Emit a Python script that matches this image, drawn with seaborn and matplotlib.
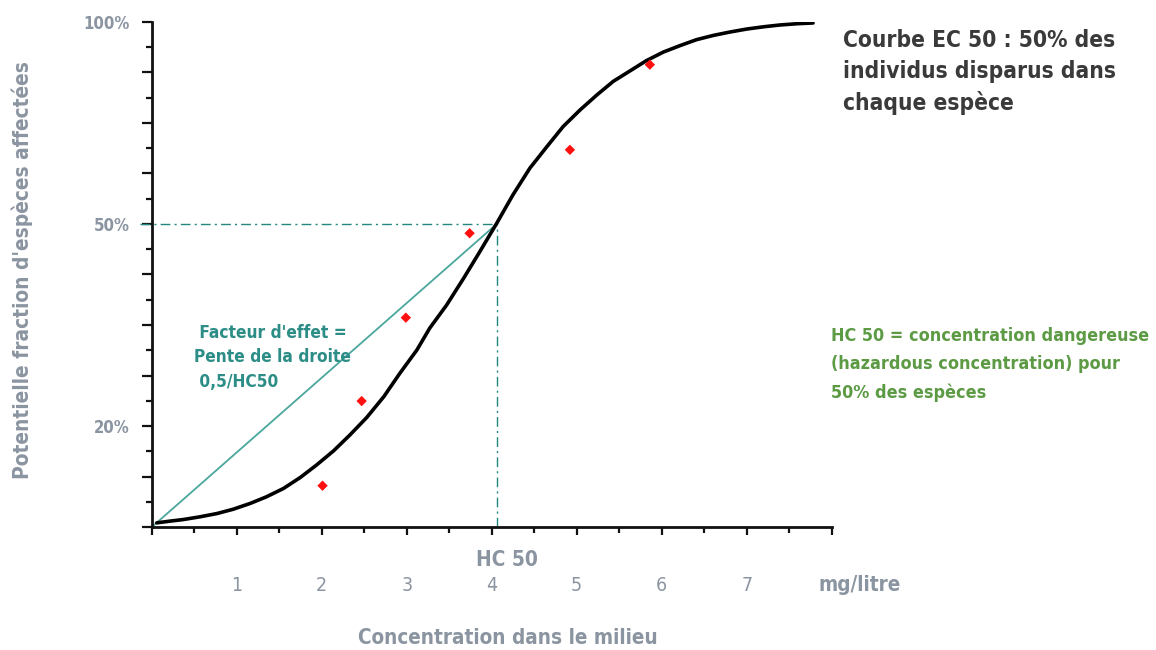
import matplotlib
matplotlib.use("Agg")
import matplotlib.pyplot as plt
from matplotlib import font_manager
from matplotlib.font_manager import FontProperties
from matplotlib.ticker import FixedLocator, FixedFormatter
import seaborn as sns
import pandas as pd

# courbe EC 50 (x en mg/litre, y en graduations de l'axe 0..20)
curve_x = [0.06, 0.22, 0.37, 0.57, 0.77, 0.96, 1.16, 1.35, 1.55, 1.75, 1.94,
           2.14, 2.33, 2.53, 2.73, 2.92, 3.12, 3.27, 3.47, 3.67, 3.86, 4.06,
           4.25, 4.45, 4.65, 4.84, 5.04, 5.24, 5.43, 5.63, 5.82, 6.02, 6.22,
           6.41, 6.61, 6.80, 7.00, 7.20, 7.39, 7.59, 7.78]
curve_y = [0.17, 0.24, 0.30, 0.41, 0.54, 0.71, 0.94, 1.20, 1.53, 1.97, 2.46,
           3.02, 3.64, 4.34, 5.16, 6.09, 7.01, 7.87, 8.79, 9.85, 10.90, 12.03,
           13.15, 14.21, 15.06, 15.85, 16.51, 17.11, 17.64, 18.06, 18.46, 18.80, 19.06,
           19.29, 19.46, 19.59, 19.71, 19.80, 19.87, 19.92, 19.95]

# points mesurés (losanges rouges)
obs_x = [2.01, 2.47, 2.99, 3.74, 4.92, 5.86]
obs_y = [1.64, 4.99, 8.29, 11.63, 14.93, 18.30]

hc50 = 4.06
half = 12  # graduation du 50%

x_labels = ["", "1", "2", "3", "4", "5", "6", "7", ""]
y_label_pos = [4, 12, 20]
y_labels = ["20%", "50%", "100%"]

sns.set_style("ticks")
plt.rcParams["font.family"] = ["Liberation Sans", "DejaVu Sans"]


def pick_condensed(target_weight):
    # police étroite si elle existe, sinon Liberation Sans
    best = None
    for f in font_manager.fontManager.ttflist:
        narrow = ("condensed" in str(f.stretch).lower() or "Condensed" in f.name
                  or "Narrow" in f.name or "Condensed" in f.fname or "Narrow" in f.fname)
        if not narrow or "Italic" in f.fname or "Oblique" in f.fname:
            continue
        try:
            w = int(f.weight)
        except ValueError:
            w = {"bold": 700, "semibold": 600, "medium": 500}.get(str(f.weight), 400)
        score = abs(w - target_weight)
        if best is None or score < best[0]:
            best = (score, f.fname)
    if best:
        return FontProperties(fname=best[1])
    return FontProperties(family="Liberation Sans",
                          weight="bold" if target_weight > 500 else "normal")


cond = pick_condensed(650)
cond_reg = pick_condensed(400)

gray = "#8b95a1"
teal_line = "#4aa79d"
teal_dash = "#23877f"
teal_text = "#2b8d86"
green = "#5c9a44"

fig = plt.figure(figsize=(11.56, 6.5), dpi=100)
ax = fig.add_axes([0.1312, 0.189, 0.5883, 0.7776])

curve = pd.DataFrame({"x": curve_x, "y": curve_y})
obs = pd.DataFrame({"x": obs_x, "y": obs_y})

# droite facteur d'effet et repères HC 50
ax.plot([0, hc50], [0, half], color=teal_line, lw=1.3, zorder=2)
ax.plot([-0.14, hc50], [half, half], color=teal_dash, lw=1.0,
        ls=(0, (7, 3, 1.5, 3)), clip_on=False, zorder=2)
ax.plot([hc50, hc50], [0, half], color=teal_dash, lw=1.0,
        ls=(0, (7, 3, 1.5, 3)), zorder=2)

sns.lineplot(data=curve, x="x", y="y", color="black", lw=2.6, ax=ax, zorder=3)
sns.scatterplot(data=obs, x="x", y="y", marker="D", color="#ff1010", s=28,
                edgecolor="none", ax=ax, zorder=4)

ax.set_xlim(0, 8)
ax.set_ylim(0, 20)
ax.set_xlabel("")
ax.set_ylabel("")
sns.despine(ax=ax)
for s in ("left", "bottom"):
    ax.spines[s].set_linewidth(2.0)
    ax.spines[s].set_color("#111111")

ax.xaxis.set_major_locator(FixedLocator(range(9)))
ax.xaxis.set_major_formatter(FixedFormatter(x_labels))
ax.xaxis.set_minor_locator(FixedLocator([i + 0.5 for i in range(8)]))
ax.yaxis.set_major_locator(FixedLocator(range(0, 21, 2)))
ax.yaxis.set_major_formatter(FixedFormatter(
    [y_labels[y_label_pos.index(v)] if v in y_label_pos else "" for v in range(0, 21, 2)]))
ax.yaxis.set_minor_locator(FixedLocator(range(1, 20, 2)))

ax.tick_params(axis="x", which="major", length=6, width=1.6, pad=29,
               labelcolor=gray, color="#111111")
ax.tick_params(axis="x", which="minor", length=4, width=1.6, color="#111111")
ax.tick_params(axis="y", which="major", length=7, width=1.6, pad=9,
               labelcolor=gray, color="#111111")
ax.tick_params(axis="y", which="minor", length=4.5, width=1.6, color="#111111")
for lab in ax.get_xticklabels():
    lab.set_fontproperties(cond_reg)
    lab.set_fontsize(14)
for lab in ax.get_yticklabels():
    lab.set_fontproperties(cond)
    lab.set_fontsize(12)

texts = []
t = ax.text(4.18, -1.3, "HC 50", color=gray, fontproperties=cond, fontsize=16,
            ha="center", va="center", clip_on=False)
texts.append((t, 62, "w", None))
t = ax.text(7.84, -2.3, "mg/litre", color=gray, fontproperties=cond, fontsize=16,
            ha="left", va="center", clip_on=False)
texts.append((t, 83, "w", None))
t = ax.text(4.19, -4.4, "Concentration dans le milieu", color=gray, fontproperties=cond,
            fontsize=16, ha="center", va="center", clip_on=False)
texts.append((t, 302, "w", None))
t = fig.text(0.019, 0.585, "Potentielle fraction d'espèces affectées", color=gray,
             fontproperties=cond, fontsize=16, rotation=90, ha="center", va="center")
texts.append((t, 420, "h", None))

# textes multilignes : ancrés sur la ligne de base de la dernière ligne
t = ax.text(0.5, 5.55, " Facteur d'effet =\nPente de la droite\n 0,5/HC50", color=teal_text,
            fontproperties=cond, fontsize=14, ha="left", va="baseline")
texts.append((t, 158, "w", 24.5))
t = ax.text(8.13, 16.51, "Courbe EC 50 : 50% des\nindividus disparus dans\nchaque espèce",
            color="#3a3a3a", fontproperties=cond, fontsize=18, ha="left", va="baseline",
            clip_on=False)
texts.append((t, 272, "w", 30.5))
t = ax.text(7.99, 5.11, "HC 50 = concentration dangereuse\n(hazardous concentration) pour\n50% des espèces",
            color=green, fontproperties=cond, fontsize=16, ha="left", va="baseline",
            clip_on=False)
texts.append((t, 318, "w", 28.2))

# ajuste la taille de chaque texte à la largeur mesurée sur l'image
renderer = fig.canvas.get_renderer()
for t, target, dim, gap in texts:
    bb = t.get_window_extent(renderer)
    size = bb.width if dim == "w" else bb.height
    t.set_fontsize(t.get_fontsize() * target / size)
    if gap:
        _, h, d = renderer.get_text_width_height_descent("lp", t.get_fontproperties(), ismath=False)
        t.set_linespacing((gap - d) / (h - d))

fig.savefig("out.png", dpi=100)
